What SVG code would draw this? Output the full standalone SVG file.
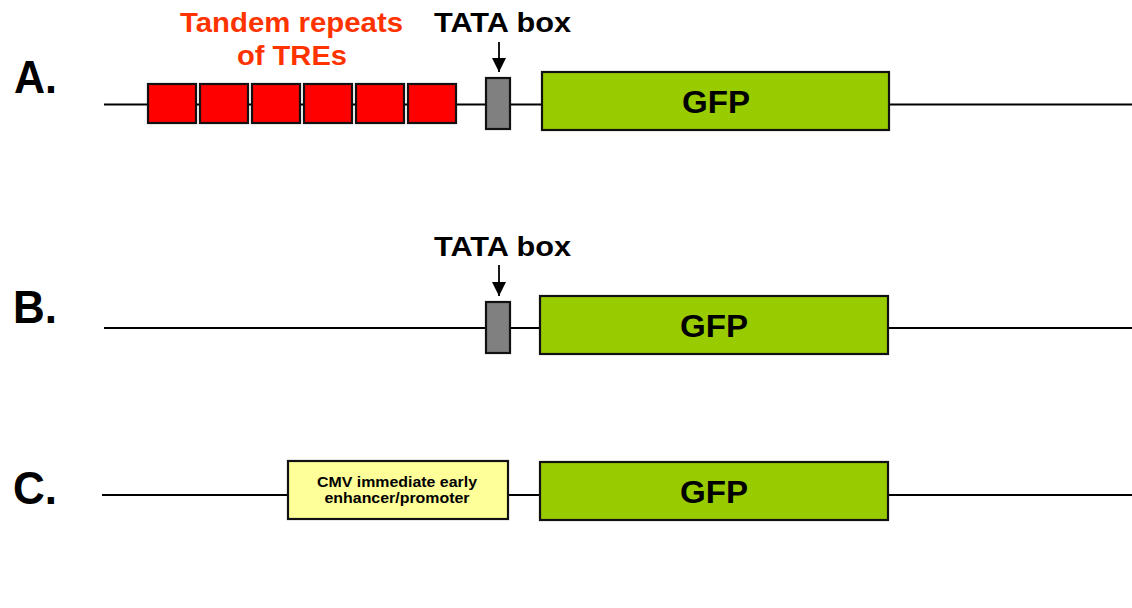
<svg xmlns="http://www.w3.org/2000/svg" width="1132" height="608" viewBox="0 0 1132 608">
<defs>
<style>
.ln{stroke:#000;stroke-width:1.8;fill:none}
.box{stroke:#111;stroke-width:2.2}
.tre{fill:#FF0000}
.tata{fill:#808080}
.gfp{fill:#99CC00}
.cmv{fill:#FFFF99}
.lab{font-family:"Liberation Sans",Arial,sans-serif;font-weight:bold;fill:#000}
.big{font-size:47px}
.gt{font-size:32px;text-anchor:middle}
.tt{font-size:27px;text-anchor:middle}
.red{font-size:27px;text-anchor:middle;fill:#FF3300}
.sm{font-size:15px;text-anchor:middle}
</style>
<marker id="ah" markerWidth="14" markerHeight="14" refX="14" refY="7" orient="auto" markerUnits="userSpaceOnUse" viewBox="0 0 14 14">
<path d="M0,0 L14,7 L0,14 Z" fill="#000"/>
</marker>
</defs>
<g id="connectors">
<line class="ln" x1="104" y1="104.5" x2="1132" y2="104.5"/>
<line class="ln" x1="104" y1="328" x2="1132" y2="328"/>
<line class="ln" x1="102" y1="495" x2="1132" y2="495"/>
<line x1="499" y1="42" x2="499" y2="72" stroke="#000" stroke-width="1.8" marker-end="url(#ah)"/>
<line x1="499" y1="265" x2="499" y2="296" stroke="#000" stroke-width="1.8" marker-end="url(#ah)"/>
</g>
<g id="labelA"><text class="lab big" x="14" y="93" textLength="43" lengthAdjust="spacingAndGlyphs">A.</text></g>
<g id="labelB"><text class="lab big" x="13" y="323" textLength="44" lengthAdjust="spacingAndGlyphs">B.</text></g>
<g id="labelC"><text class="lab big" x="13" y="504" textLength="44" lengthAdjust="spacingAndGlyphs">C.</text></g>
<g id="tre-label">
<text class="lab red" x="291.5" y="32" textLength="223" lengthAdjust="spacingAndGlyphs">Tandem repeats</text>
<text class="lab red" x="292" y="65" textLength="110" lengthAdjust="spacingAndGlyphs">of TREs</text>
</g>
<g id="tre-repeats">
<rect class="box tre" x="148" y="84" width="48" height="39"/>
<rect class="box tre" x="200" y="84" width="48" height="39"/>
<rect class="box tre" x="252" y="84" width="48" height="39"/>
<rect class="box tre" x="304" y="84" width="48" height="39"/>
<rect class="box tre" x="356" y="84" width="48" height="39"/>
<rect class="box tre" x="408" y="84" width="48" height="39"/>
</g>
<g id="tataA">
<text class="lab tt" x="502.5" y="32" textLength="137" lengthAdjust="spacingAndGlyphs">TATA box</text>
<rect class="box tata" x="486" y="78" width="24" height="51"/>
</g>
<g id="gfpA">
<rect class="box gfp" x="542" y="72" width="347" height="58"/>
<text class="lab gt" x="716" y="113" textLength="68" lengthAdjust="spacingAndGlyphs">GFP</text>
</g>
<g id="tataB">
<text class="lab tt" x="502.5" y="256" textLength="137" lengthAdjust="spacingAndGlyphs">TATA box</text>
<rect class="box tata" x="486" y="302" width="24" height="51"/>
</g>
<g id="gfpB">
<rect class="box gfp" x="540" y="296" width="348" height="58"/>
<text class="lab gt" x="714" y="337" textLength="68" lengthAdjust="spacingAndGlyphs">GFP</text>
</g>
<g id="cmv">
<rect class="box cmv" x="288" y="461" width="220" height="58"/>
<text class="lab sm" x="397" y="487" textLength="160" lengthAdjust="spacingAndGlyphs">CMV immediate early</text>
<text class="lab sm" x="397" y="503" textLength="145" lengthAdjust="spacingAndGlyphs">enhancer/promoter</text>
</g>
<g id="gfpC">
<rect class="box gfp" x="540" y="462" width="348" height="58"/>
<text class="lab gt" x="714" y="503" textLength="68" lengthAdjust="spacingAndGlyphs">GFP</text>
</g>
</svg>
